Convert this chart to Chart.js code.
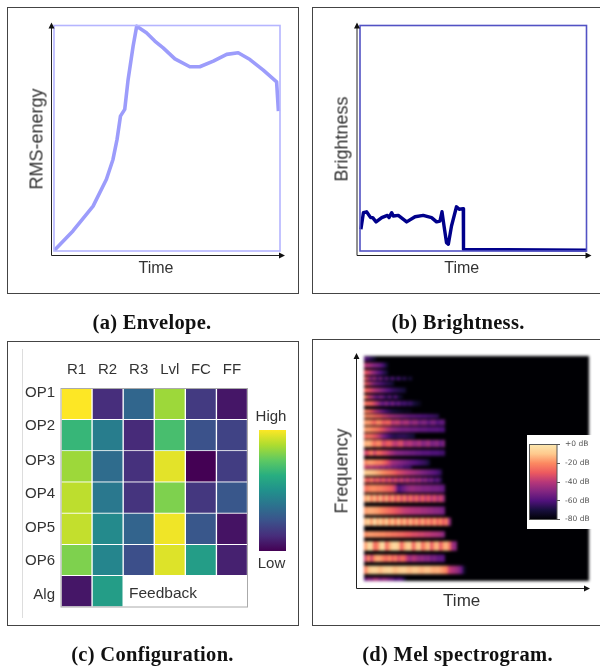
<!DOCTYPE html>
<html>
<head>
<meta charset="utf-8">
<script src="https://cdn.jsdelivr.net/npm/chart.js@4"></script>
<style>
    html, body { margin: 0; padding: 0; background: #fff; overflow: hidden; }
    #pagina { position: relative; width: 600px; height: 668px; overflow: hidden; filter: blur(0.4px); }
    canvas { position: absolute; display: block; }
    .marco { position: absolute; border: 1.4px solid #444; box-sizing: border-box; }
    .txt { position: absolute; white-space: nowrap; font-family: "Liberation Sans", sans-serif; color: #333;
           transform: translate(-50%, -50%); }
    .cap { position: absolute; white-space: nowrap; font-family: "Liberation Serif", serif; font-weight: bold;
           font-size: 20.5px; letter-spacing: 0.3px; color: #111; transform: translate(-50%, -50%); }
</style>
</head>
<body>
<div id="pagina"></div>
<script>
// Envelope (tiempo y energia en % del eje)
const envTime = [0.3, 8.4, 17.3, 23.2, 26.1, 27.9, 29.4, 31.3, 32.8, 35.0, 36.6, 40.9, 44.6, 48.3, 53.5, 60.1, 64.5, 70.5, 76.4, 81.5, 86.7, 92.6, 98.5, 99.3];
const envRms = [0.4, 8.9, 19.9, 31.8, 40.6, 49.5, 59.8, 62.8, 76.1, 90.8, 99.7, 96.8, 93.1, 90.1, 85.2, 81.7, 81.7, 84.2, 87.2, 87.9, 84.9, 80.2, 75.0, 62.0];

// Brightness
const briTime = [0.4, 1.5, 2.9, 4.7, 5.6, 7.1, 9.6, 12.1, 12.8, 14.0, 14.7, 16.9, 20.6, 24.3, 27.9, 31.6, 33.8, 35.3, 36.2, 37.1, 38.2, 39.0, 40.4, 42.6, 43.8, 45.6, 45.7, 100];
const briValue = [9.6, 17.0, 17.4, 14.8, 14.8, 12.9, 14.8, 15.8, 14.8, 17.0, 15.5, 15.8, 12.9, 15.2, 15.8, 14.8, 12.9, 13.3, 17.4, 11.1, 3.7, 3.0, 11.1, 19.6, 18.5, 18.8, 0.7, 0.4];

// Configuration
const paramLabels = ["R1", "R2", "R3", "Lvl", "FC", "FF"];
const opLabels = ["OP1", "OP2", "OP3", "OP4", "OP5", "OP6", "Alg"];
const opTickAt = [0.14, 1.2, 2.32, 3.38, 4.46, 5.53, 6.62];
const op1 = [1.0, 0.13, 0.33, 0.85, 0.17, 0.06];
const op2 = [0.66, 0.42, 0.12, 0.70, 0.25, 0.2];
const op3 = [0.85, 0.35, 0.14, 0.96, 0.0, 0.18];
const op4 = [0.90, 0.40, 0.15, 0.80, 0.16, 0.27];
const op5 = [0.91, 0.47, 0.32, 0.98, 0.27, 0.05];
const op6 = [0.80, 0.45, 0.24, 0.95, 0.55, 0.09];
const alg = [0.06, 0.55, null, null, null, null];

// Mel spectrogram: bandas de abajo hacia arriba, bins 0-128, un valor en dB por frame
const melLow = [0, 3.9, 10.8, 17.2, 24.7, 31.4, 37.6, 44.8, 50.3, 55.9, 59.9, 63.9, 65.6, 71.2, 76.1, 80.9, 84.6, 88.5, 92.7, 95.5, 99.5, 103.6, 107, 111.2, 114.2, 117.1, 121.2, 125.3];
const melHigh = [2, 8.7, 15, 22.6, 28.3, 36, 42.4, 49.2, 54.9, 58.9, 63.5, 65.7, 69.2, 74.6, 80.3, 83.9, 87.8, 91.9, 94.9, 97.7, 102.5, 105.8, 110, 113.4, 116.2, 120.1, 124.2, 127.7];
const melDb = [
    [-50,-40,-44,-36,-38,-44,-40,-42,-46,-48,-56,-52,-54,-65,-75],
    [-18,-9,-6,-5,-7,-10,-7,-6,-5,-8,-10,-8,-7,-6,-9,-10,-8,-8,-10,-11,-9,-9,-11,-12,-11,-13,-15,-18,-32,-35,-38,-42,-50,-70,-80,-66],
    [-30,-16,-30,-16,-12,-14,-18,-22,-16,-24,-18,-28,-22,-24,-34,-40,-34,-38,-42,-40,-44,-42,-48,-45,-50,-50,-52,-55],
    [-14,-4,-4,-22,-18,-5,-3,-22,-12,-5,-4,-8,-24,-12,-6,-8,-24,-10,-7,-22,-14,-9,-26,-13,-10,-26,-14,-10,-20,-38,-42,-48],
    [-16,-14,-14,-15,-15,-16,-16,-18,-18,-20,-20,-22,-22,-24,-25,-26,-28,-28,-30,-30,-32,-32,-34,-35,-36,-38,-42,-46],
    [-10,-4,-14,-2,-12,-6,-14,-6,-16,-8,-18,-8,-18,-10,-20,-10,-20,-12,-22,-12,-22,-14,-24,-14,-24,-16,-26,-18,-40,-60],
    [-14,-12,-12,-13,-14,-16,-18,-20,-22,-24,-26,-28,-30,-32,-33,-34,-35,-36,-36,-38,-38,-40,-40,-42,-42,-44,-46,-50],
    [-14,-8,-18,-10,-20,-10,-22,-12,-24,-14,-26,-16,-28,-18,-30,-20,-30,-22,-32,-24,-32,-26,-34,-28,-36,-30,-38,-40],
    [-20,-18,-16,-16,-18,-18,-20,-22,-24,-26,-34,-55,-50,-46,-42,-40,-40,-42,-42,-44,-44,-44,-46,-46,-46,-48,-50,-55],
    [-20,-26,-18,-28,-22,-30,-24,-32,-26,-34,-28,-36,-30,-38,-32,-40,-36,-42,-38,-46,-42,-50,-46,-56,-50,-60,-60],
    [-8,-8,-9,-10,-12,-14,-16,-18,-20,-22,-25,-28,-30,-32,-34,-36,-38,-40,-42,-44,-46,-48,-50,-52,-55,-60,-70],
    [-30,-34,-32,-36,-34,-40,-38,-44,-40,-46,-46,-50,-50,-56,-56,-60,-65],
    [-18,-14,-14,-16,-18,-18,-22,-26,-32,-38,-40,-42,-44,-46,-48,-50,-52,-54,-56,-58,-60,-65,-70],
    [-30,-26,-18,-30,-22,-24,-28,-30,-34,-38,-42,-44,-44,-46,-46,-48,-48,-50,-50,-52,-52,-52,-54,-54,-54,-56,-56,-60],
    [-12,-10,-14,-22,-16,-18,-30,-26,-24,-30,-34,-30,-28,-38,-36,-34,-40,-40,-36,-44,-42,-38,-46,-44,-42,-50,-44,-48],
    [-22,-20,-22,-26,-30,-36,-44,-50,-56,-60,-62,-60,-60,-60,-62,-64,-66,-70],
    [-14,-14,-16,-18,-20,-24,-28,-32,-36,-40,-42,-44,-46,-46,-46,-48,-48,-48,-50,-50,-50,-52,-52,-52,-52,-54,-54,-58],
    [-14,-14,-18,-24,-16,-18,-26,-24,-24,-34,-32,-32,-40,-36,-36,-44,-40,-40,-48,-44,-44,-52,-46,-46,-54,-50,-50,-58],
    [-16,-18,-18,-22,-24,-26,-30,-32,-36,-38,-40,-42,-44,-46,-48,-50,-50,-52,-52,-54,-54,-56,-56,-58,-60,-64],
    [-18,-20,-26,-32,-38,-44,-50,-56,-60,-64,-66,-68,-70,-72,-72,-74,-76],
    [-20,-22,-24,-30,-36,-46,-50,-44,-54,-46,-56,-50,-58,-56,-60,-58,-64,-68,-72,-76],
    [-18,-30,-34,-44,-50,-44,-50,-60,-50,-62,-52,-64,-70,-74],
    [-22,-26,-30,-34,-38,-42,-46,-50,-54,-58,-60,-62,-64,-66,-70],
    [-24,-30,-36,-44,-48,-52,-56,-60,-62,-66,-70],
    [-24,-34,-44,-38,-52,-44,-60,-50,-64,-52,-66,-54,-68,-60,-72,-64,-76],
    [-26,-30,-36,-42,-48,-54,-60,-66,-70],
    [-34,-36,-40,-44,-46,-50,-56,-66,-72],
    [-52,-56,-62,-68,-74]
];
const dbTicks = [0, -20, -40, -60, -80];

const viridis = ["#440154", "#472d7b", "#3b528b", "#2c728e", "#21918c", "#28ae80", "#5ec962", "#addc30", "#fde725"];
const magma = ["#000004", "#180f3d", "#51127c", "#832681", "#b73779", "#ed5a5f", "#fc8961", "#fec98d", "#fce8b0"];

const pagina = document.getElementById("pagina");

function hexRgb(h){
    return [1, 3, 5].map(i => parseInt(h.substr(i, 2), 16));
}

// color de un mapa para t entre 0 y 1
function colorDe(mapa, t){
    t = Math.max(0, Math.min(1, t));
    let pos = t * (mapa.length - 1);
    let i = Math.min(Math.floor(pos), mapa.length - 2);
    let a = hexRgb(mapa[i]), b = hexRgb(mapa[i + 1]);
    let f = pos - i;
    return "rgb(" + a.map((c, k) => Math.round(c + (b[k] - c) * f)).join(",") + ")";
}

function crearCanvas(x, y, w, h){
    let c = document.createElement("canvas");
    c.width = w;
    c.height = h;
    c.style.left = x + "px";
    c.style.top = y + "px";
    c.style.width = w + "px";
    c.style.height = h + "px";
    pagina.appendChild(c);
    return c;
}

function marco(x, y, w, h){
    let d = document.createElement("div");
    d.className = "marco";
    d.style.cssText = "left:" + x + "px;top:" + y + "px;width:" + w + "px;height:" + h + "px";
    pagina.appendChild(d);
}

function texto(t, x, y, size, rot, clase){
    let d = document.createElement("div");
    d.className = clase || "txt";
    d.textContent = t;
    d.style.left = x + "px";
    d.style.top = y + "px";
    if (size) d.style.fontSize = size + "px";
    if (rot) d.style.transform = "translate(-50%, -50%) rotate(" + rot + "deg)";
    pagina.appendChild(d);
}

// borde del area del grafico
const cajaPlugin = {
    id: "caja",
    afterDatasetsDraw(chart, args, opts){
        if (!opts.color) return;
        let a = chart.chartArea, ctx = chart.ctx;
        ctx.save();
        ctx.strokeStyle = opts.color;
        ctx.lineWidth = opts.width || 1;
        ctx.strokeRect(a.left, a.top, a.right - a.left, a.bottom - a.top);
        ctx.restore();
    }
};

// ejes con flecha
const flechasPlugin = {
    id: "flechas",
    afterDraw(chart, args, opts){
        if (opts.dx === undefined) return;
        let a = chart.chartArea, ctx = chart.ctx;
        let x0 = a.left - opts.dx, y0 = a.bottom + opts.dy;
        let top = a.top - opts.topExtra, right = a.right + opts.rightExtra;
        ctx.save();
        ctx.strokeStyle = "#222";
        ctx.fillStyle = "#111";
        ctx.lineWidth = 1;
        ctx.beginPath();
        ctx.moveTo(x0, top);
        ctx.lineTo(x0, y0);
        ctx.lineTo(right, y0);
        ctx.stroke();
        ctx.beginPath();
        ctx.moveTo(x0, top - 2);
        ctx.lineTo(x0 - 3, top + 4);
        ctx.lineTo(x0 + 3, top + 4);
        ctx.closePath();
        ctx.moveTo(right + 2, y0);
        ctx.lineTo(right - 4, y0 - 3);
        ctx.lineTo(right - 4, y0 + 3);
        ctx.closePath();
        ctx.fill();
        ctx.restore();
    }
};

Chart.register(cajaPlugin, flechasPlugin);

function puntos(xs, ys){
    return xs.map((x, i) => ({ x: x, y: ys[i] }));
}

function baseOpts(padding, plugins){
    return {
        responsive: false,
        animation: false,
        layout: { padding: padding },
        plugins: Object.assign({ legend: { display: false }, tooltip: { enabled: false } }, plugins),
        scales: {
            x: { type: "linear", min: 0, max: 100, display: false },
            y: { type: "linear", min: 0, max: 100, display: false }
        }
    };
}

function lineaPanel(canvas, datos, color, ancho, padding, plugins){
    return new Chart(canvas, {
        type: "scatter",
        data: { datasets: [{ data: datos, showLine: true, borderColor: color, borderWidth: ancho, pointRadius: 0, tension: 0, clip: false, borderJoinStyle: "round" }] },
        options: baseOpts(padding, plugins)
    });
}

/* Panel a: Envelope */
marco(7, 7, 292, 287);
lineaPanel(crearCanvas(0, 0, 300, 335), puntos(envTime, envRms), "#9c9cfb", 3.6,
    { left: 54, top: 25.5, right: 20, bottom: 84 },
    { caja: { color: "#b5b5ff", width: 1.6 }, flechas: { dx: 2.5, dy: 4.5, topExtra: 1, rightExtra: 3 } });
texto("RMS-energy", 37, 139, 18, -90);
texto("Time", 156, 268, 16);
texto("(a) Envelope.", 152, 322, 0, 0, "cap");

/* Panel b: Brightness */
marco(312, 7, 292, 287);
lineaPanel(crearCanvas(300, 0, 300, 335), puntos(briTime, briValue), "#00008b", 3.4,
    { left: 60, top: 25.5, right: 13.5, bottom: 84 },
    { caja: { color: "#5252c4", width: 1.6 }, flechas: { dx: 3, dy: 4.5, topExtra: 1, rightExtra: 3 } });
texto("Brightness", 341.5, 139, 18, -90);
texto("Time", 461.7, 268, 16);
texto("(b) Brightness.", 458, 322, 0, 0, "cap");

/* Panel c: Configuration */
marco(7, 341, 292, 285);
let lineaGris = document.createElement("div");
lineaGris.style.cssText = "position:absolute;left:22px;top:349px;width:1px;height:269px;background:#ddd";
pagina.appendChild(lineaGris);

let filas = [op1, op2, op3, op4, op5, op6, alg];
new Chart(crearCanvas(0, 335, 300, 333), {
    type: "bar",
    data: {
        labels: paramLabels,
        datasets: filas.map((fila, r) => ({
            data: fila.map(v => v === null ? null : [r, r + 1]),
            backgroundColor: fila.map(v => v === null ? "#fff" : colorDe(viridis, v)),
            borderColor: "#fff",
            borderWidth: 1,
            barPercentage: 1,
            categoryPercentage: 1,
            grouped: false
        }))
    },
    options: {
        responsive: false,
        animation: false,
        layout: { padding: { left: 0, top: 0, right: 52.5, bottom: 61 } },
        plugins: { legend: { display: false }, tooltip: { enabled: false }, caja: { color: "#aaa", width: 1 } },
        scales: {
            x: {
                position: "top",
                grid: { display: false },
                border: { display: false },
                afterFit(s){ s.height = 53.5; },
                ticks: { color: "#333", padding: 2, maxRotation: 0, font: { family: "Liberation Sans", size: 15 } }
            },
            y: {
                type: "linear",
                min: 0,
                max: 7,
                reverse: true,
                grid: { display: false },
                border: { display: false },
                afterFit(s){ s.width = 61; },
                afterBuildTicks(s){ s.ticks = opTickAt.map(v => ({ value: v })); },
                ticks: {
                    color: "#333",
                    padding: -2,
                    autoSkip: false,
                    callback: (v, i) => opLabels[i],
                    font: { family: "Liberation Sans", size: 15 }
                }
            }
        }
    }
});
texto("Feedback", 163, 593, 15.5);
texto("High", 271, 415, 15);
texto("Low", 271.5, 562, 15);

// barra de color de una sola barra con degradado
function barraColor(canvas, mapa, padding, escalaY){
    return new Chart(canvas, {
        type: "bar",
        data: {
            labels: [""],
            datasets: [{
                data: [[escalaY.min, escalaY.max]],
                barPercentage: 1,
                categoryPercentage: 1,
                backgroundColor(ctx){
                    let a = ctx.chart.chartArea;
                    if (!a) return mapa[0];
                    let g = ctx.chart.ctx.createLinearGradient(0, a.bottom, 0, a.top);
                    mapa.forEach((c, i) => g.addColorStop(i / (mapa.length - 1), c));
                    return g;
                }
            }]
        },
        options: {
            responsive: false,
            animation: false,
            layout: { padding: padding },
            plugins: { legend: { display: false }, tooltip: { enabled: false }, caja: { color: escalaY.caja } },
            scales: { x: { display: false }, y: escalaY }
        }
    });
}

barraColor(crearCanvas(259, 430, 27, 121), viridis, 0, { type: "linear", min: 0, max: 1, display: false });

/* Panel d: Mel spectrogram */
marco(312, 339, 292, 287);
new Chart(crearCanvas(300, 335, 300, 333), {
    type: "scatter",
    data: { datasets: [] },
    options: baseOpts({ left: 64, top: 21, right: 11, bottom: 87 },
        { flechas: { dx: 7.5, dy: 7.5, topExtra: 1, rightExtra: -1 } })
});

const specLado = 225;
const specCanvas = crearCanvas(364, 356, specLado, specLado);
specCanvas.style.background = "#000004";
specCanvas.style.filter = "blur(1.6px)";
new Chart(specCanvas, {
    type: "scatter",
    data: {
        datasets: melDb.map((fila, b) => ({
            data: fila.map((db, i) => ({ x: i, y: (melLow[b] + melHigh[b]) / 2 })),
            showLine: true,
            pointRadius: 0,
            tension: 0,
            borderCapStyle: "butt",
            borderWidth: (melHigh[b] - melLow[b]) * specLado / 128,
            borderColor: "#000004",
            // los tonos medios del original salen mas oscuros que la barra
            segment: { borderColor: ctx => colorDe(magma, Math.pow((fila[ctx.p0DataIndex] + 80) / 80, 1.25)) }
        }))
    },
    options: (function(){
        let o = baseOpts(0, {});
        o.scales.x = { type: "linear", min: 0, max: 75, display: false };
        o.scales.y = { type: "linear", min: 0, max: 128, display: false };
        return o;
    })()
});

let cajaDb = crearCanvas(527, 435, 73, 94);
cajaDb.style.background = "#fff";
barraColor(cajaDb, magma, { left: 2.5, top: 7, right: 0, bottom: 6 }, {
    type: "linear",
    min: -80,
    max: 0,
    position: "right",
    caja: "#555",
    afterFit(s){ s.width = 43; },
    afterBuildTicks(s){ s.ticks = dbTicks.map(v => ({ value: v })); },
    grid: { drawOnChartArea: false, tickLength: 3, tickColor: "#555" },
    border: { display: false },
    ticks: {
        color: "#555",
        padding: 5,
        callback: v => (v === 0 ? "+0" : v) + " dB",
        font: { family: "DejaVu Sans", size: 7.5 }
    }
});
texto("Frequency", 341.5, 471, 18, -90);
texto("Time", 461.7, 601, 17);
texto("(c) Configuration.", 152.5, 654, 0, 0, "cap");
texto("(d) Mel spectrogram.", 457.5, 654, 0, 0, "cap");
</script>
</body>
</html>
